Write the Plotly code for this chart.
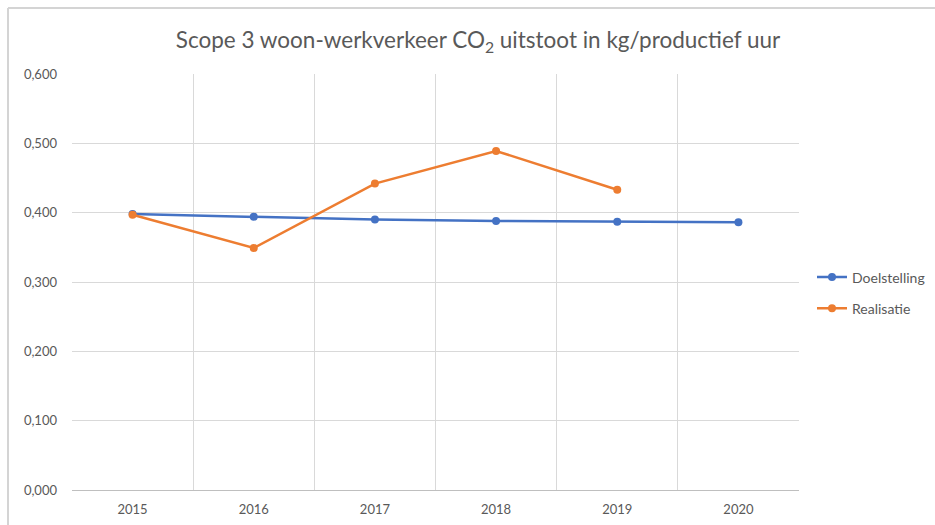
import plotly.graph_objects as go

years = ["2015", "2016", "2017", "2018", "2019", "2020"]
doelstelling = [0.398, 0.394, 0.390, 0.388, 0.387, 0.386]
realisatie_years = ["2015", "2016", "2017", "2018", "2019"]
realisatie = [0.397, 0.349, 0.442, 0.489, 0.433]
y_ticks = [0.0, 0.1, 0.2, 0.3, 0.4, 0.5, 0.6]

W, H = 935, 525
ml, mr, mt, mb = 72, 136, 74, 35
pw = W - ml - mr
ph = H - mt - mb

def px(x):
    return (x - ml) / pw

def py(y):
    return (H - mb - y) / ph

font_family = "Lato, 'Open Sans', 'Liberation Sans', sans-serif"
txt_col = "#595959"

fig = go.Figure()
fig.add_trace(go.Scatter(
    x=years, y=doelstelling, name="Doelstelling", mode="lines+markers",
    legendgroup="d",
    line=dict(color="#4472C4", width=2.5),
    marker=dict(color="#4472C4", size=8),
))
fig.add_trace(go.Scatter(
    x=realisatie_years, y=realisatie, name="Realisatie", mode="lines+markers",
    legendgroup="r",
    line=dict(color="#ED7D31", width=2.5),
    marker=dict(color="#ED7D31", size=8),
))

fig.update_layout(
    width=W, height=H,
    margin=dict(l=ml, r=mr, t=mt, b=mb, autoexpand=False),
    paper_bgcolor="white", plot_bgcolor="white",
    separators=",.",
    font=dict(family=font_family, color=txt_col, size=13),
    title=dict(
        text="Scope 3 woon-werkverkeer CO<sub>2</sub> uitstoot in kg/productief uur",
        x=478 / W, xanchor="center", y=1 - 40 / H, yanchor="middle",
        font=dict(family=font_family, size=22.5, color=txt_col),
    ),
    xaxis=dict(
        type="category", categoryorder="array", categoryarray=years,
        tickson="boundaries", showgrid=True, gridcolor="#d9d9d9", gridwidth=1,
        showline=True, linecolor="#bfbfbf", linewidth=1,
        ticks="", tickfont=dict(size=13, color=txt_col),
        range=[-0.5, 5.5], fixedrange=True, ticklabelstandoff=7,
        automargin=False,
    ),
    yaxis=dict(
        range=[0, 0.6], tickvals=y_ticks, tickformat=".3f",
        showgrid=True, gridcolor="#d9d9d9", gridwidth=1,
        zeroline=False, showline=False, ticks="",
        tickfont=dict(size=13, color=txt_col), ticklabelstandoff=14,
        automargin=False,
    ),
    legend=dict(
        x=px(812), y=py(293), xanchor="left", yanchor="middle",
        font=dict(size=14, color=txt_col), bgcolor="rgba(0,0,0,0)",
        itemwidth=30, traceorder="grouped", tracegroupgap=10,
    ),
    shapes=[
        dict(type="line", xref="paper", yref="paper",
             x0=px(8), x1=px(935), y0=py(8), y1=py(8),
             line=dict(color="#d4d4d4", width=2)),
        dict(type="line", xref="paper", yref="paper",
             x0=px(8), x1=px(8), y0=py(8), y1=py(525),
             line=dict(color="#d4d4d4", width=2)),
    ],
)

fig.write_html(
    "out.html",
    config={"displayModeBar": False},
    post_script="document.body.style.margin='0';",
)
